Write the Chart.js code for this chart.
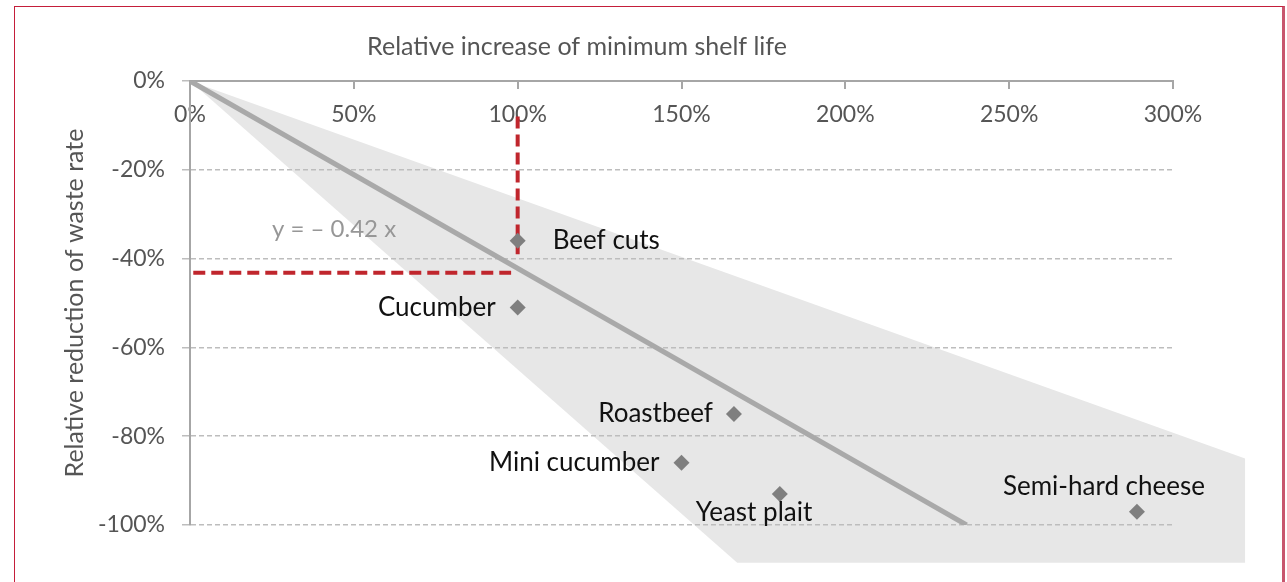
<!DOCTYPE html>
<html>
<head>
<meta charset="utf-8">
<script src="https://cdn.jsdelivr.net/npm/chart.js@4.4.1/dist/chart.umd.min.js"></script>
<style>
  body { margin: 0; background: #fff; }
  .frame {
    position: absolute; left: 14px; top: 6px; width: 1271px; height: 620px;
    border: 1.5px solid #c41e3a; border-right: 3px solid #c8566e; border-bottom: none;
    box-sizing: border-box;
  }
  #chart { position: absolute; left: 0; top: 0; }
</style>
</head>
<body>
<div class="frame"></div>
<canvas id="chart" width="1287" height="582"></canvas>
<script>
// products and their measured effects
const products = ['Beef cuts', 'Cucumber', 'Roastbeef', 'Mini cucumber', 'Yeast plait', 'Semi-hard cheese'];
const shelfLifeIncrease = [1.00, 1.00, 1.66, 1.50, 1.80, 2.89];
const wasteReduction = [-0.36, -0.51, -0.75, -0.86, -0.93, -0.97];

// regression line y = -0.42 x
const trendX = [0, 2.37];
const trendY = [0, -1.0];

// shaded uncertainty area (corners)
const bandX = [0, 3.22, 3.22, 1.67];
const bandY = [0, -0.85, -1.085, -1.085];

// red reading guides at 100 %
const guideVX = [1.0, 1.0];
const guideVY = [-0.08, -0.39];
const guideHX = [0.01, 0.98];
const guideHY = [-0.432, -0.432];

const xTickLabels = ['0%', '50%', '100%', '150%', '200%', '250%', '300%'];
const yTickLabels = ['-100%', '-80%', '-60%', '-40%', '-20%', '0%'];

// label placement next to each marker: [dx, dy, align]
const labelOffsets = [[35, 0, 'left'], [-22, 0, 'right'], [-21, 0, 'right'], [-22, 0, 'right'], [-84, 19, 'left'], [-134, -25, 'left']];

const toPoints = (xs, ys) => xs.map((x, i) => ({ x: x, y: ys[i] }));

const GREY_TEXT = '#555555';
Chart.defaults.font.family = 'Lato';

const bandPlugin = {
  id: 'band',
  beforeDraw(chart) {
    const { ctx, scales: { x, y } } = chart;
    ctx.save();
    ctx.fillStyle = '#e7e7e7';
    ctx.beginPath();
    bandX.forEach((v, i) => {
      const px = x.getPixelForValue(v);
      const py = y.getPixelForValue(bandY[i]);
      if (i === 0) ctx.moveTo(px, py); else ctx.lineTo(px, py);
    });
    ctx.closePath();
    ctx.fill();
    ctx.restore();
  }
};

const textPlugin = {
  id: 'texts',
  afterDatasetsDraw(chart) {
    const { ctx, scales: { x, y } } = chart;
    ctx.save();
    ctx.textBaseline = 'middle';

    // axis title on top
    ctx.fillStyle = GREY_TEXT;
    ctx.font = '25px Lato';
    ctx.textAlign = 'center';
    ctx.fillText('Relative increase of minimum shelf life', 577, 47);

    // equation
    ctx.fillStyle = '#979797';
    ctx.font = '24px Lato';
    ctx.textAlign = 'left';
    ctx.fillText('y = \u2013 0.42 x', x.getPixelForValue(0.25), y.getPixelForValue(-0.333));

    // product labels
    ctx.fillStyle = '#111';
    ctx.font = '26px Lato';
    products.forEach((name, i) => {
      const [dx, dy, align] = labelOffsets[i];
      ctx.textAlign = align;
      ctx.fillText(name, x.getPixelForValue(shelfLifeIncrease[i]) + dx, y.getPixelForValue(wasteReduction[i]) + dy);
    });
    ctx.restore();
  }
};

new Chart(document.getElementById('chart'), {
  type: 'scatter',
  data: {
    datasets: [
      {
        label: 'Products',
        data: toPoints(shelfLifeIncrease, wasteReduction),
        pointStyle: 'rectRot',
        pointRadius: 8,
        borderWidth: 0,
        backgroundColor: '#7f7f7f'
      },
      {
        label: 'Guide vertical',
        type: 'line',
        data: toPoints(guideVX, guideVY),
        borderColor: '#c0262d',
        borderWidth: 4,
        borderDash: [12, 6],
        pointRadius: 0
      },
      {
        label: 'Guide horizontal',
        type: 'line',
        data: toPoints(guideHX, guideHY),
        borderColor: '#c0262d',
        borderWidth: 4,
        borderDash: [12, 6],
        pointRadius: 0
      },
      {
        label: 'Trend',
        type: 'line',
        data: toPoints(trendX, trendY),
        borderColor: '#a9a9a9',
        borderWidth: 5,
        pointRadius: 0
      }
    ]
  },
  options: {
    responsive: false,
    animation: false,
    layout: { padding: { left: 14, top: 0, right: 114, bottom: 57 } },
    plugins: {
      legend: { display: false },
      tooltip: { enabled: false }
    },
    scales: {
      x: {
        type: 'linear',
        position: 'top',
        min: 0,
        max: 3,
        afterFit: (s) => { s.height = 81; },
        ticks: {
          stepSize: 0.5,
          mirror: true,
          padding: 20,
          maxRotation: 0,
          autoSkip: false,
          color: GREY_TEXT,
          font: { size: 23 },
          callback: (v, i) => xTickLabels[i]
        },
        grid: { drawOnChartArea: false, tickLength: -8, color: '#a6a6a6', lineWidth: 2 },
        border: { color: '#a6a6a6', width: 2 }
      },
      y: {
        type: 'linear',
        min: -1,
        max: 0,
        afterFit: (s) => { s.width = 176; },
        ticks: {
          stepSize: 0.2,
          padding: 17,
          color: GREY_TEXT,
          font: { size: 23 },
          callback: (v, i) => yTickLabels[i]
        },
        grid: { color: '#bdbdbd', lineWidth: 1.5, tickLength: 8, tickColor: '#bdbdbd', tickBorderDash: [] },
        border: { color: '#a6a6a6', width: 2, dash: [5, 3] },
        title: {
          display: true,
          text: 'Relative reduction of waste rate',
          color: GREY_TEXT,
          font: { size: 25 },
          padding: { top: 46, bottom: 0 }
        }
      }
    }
  },
  plugins: [bandPlugin, textPlugin]
});
</script>
</body>
</html>
